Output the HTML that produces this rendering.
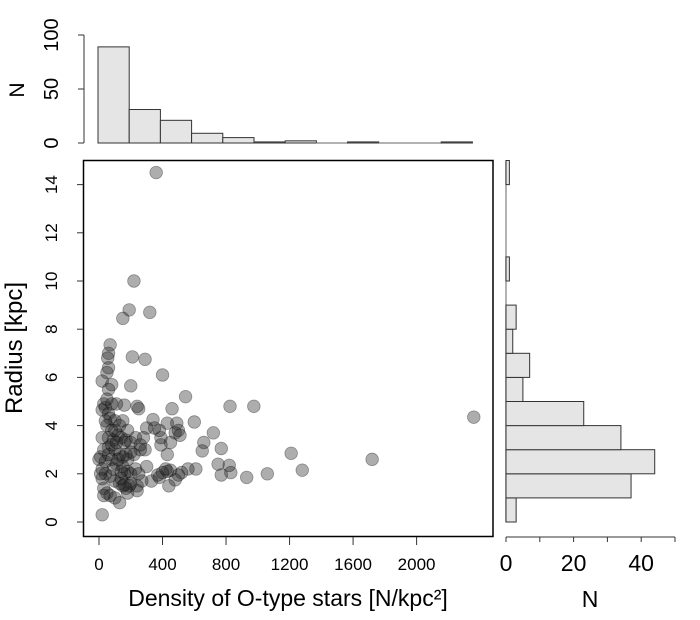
<!DOCTYPE html>
<html><head><meta charset="utf-8">
<style>
html,body{margin:0;padding:0;background:#fff;}
svg{display:block;font-family:"Liberation Sans",Arial,sans-serif;}
</style></head>
<body>
<svg id="chart" width="700" height="620" viewBox="0 0 700 620" xmlns="http://www.w3.org/2000/svg">
<g id="top"></g>
<g id="main"></g>
<g id="right"></g>
</svg>
<script>
// ---- data ----
const densityVals = [360,220,190,150,320,70,60,55,60,50,210,290,400,20,80,60,200,545,825,975,2360,1210,1280,1720,1060,930,830,820,750,770,770,720,660,650,600,610,560,520,500,480,440,450,430,380,370,400,420,330,300,430,450,480,490,430,460,500,510,390,390,380,340,350,300,290,250,240,160,110,30,40,20,60,70,100,130,50,80,120,20,60,90,140,160,170,200,230,260,280,260,220,200,180,150,130,100,60,30,10,0,40,80,110,150,180,200,230,250,270,240,200,170,150,130,100,70,40,20,10,30,50,70,100,130,180,240,30,20,160,140,90,60,120,100,40,80,50,150,180,20,80,110,140,190,160,170];
const radiusVals = [14.5,10.0,8.8,8.45,8.7,7.35,7.0,6.8,6.4,6.2,6.85,6.75,6.1,5.85,5.7,5.5,5.65,5.2,4.8,4.8,4.35,2.85,2.15,2.6,2.0,1.85,2.05,2.35,2.4,1.95,3.05,3.7,3.3,2.95,4.15,2.2,2.2,2.05,1.95,1.75,1.5,2.15,2.1,1.85,1.95,2.05,2.2,1.7,2.3,2.8,3.3,3.7,4.1,4.1,4.7,3.8,3.6,3.2,3.5,3.8,4.25,3.9,3.9,3.0,4.7,4.8,4.85,4.9,4.9,4.75,4.65,4.5,4.3,4.2,4.0,4.0,3.8,3.6,3.5,3.5,3.4,3.5,3.3,3.4,3.3,3.5,3.2,3.5,3.0,2.8,2.9,2.6,2.7,2.8,3.0,3.1,3.0,2.7,2.6,2.5,2.6,2.4,2.3,2.1,2.0,2.2,2.0,1.7,1.5,1.6,1.4,1.5,1.6,1.7,1.9,2.0,1.8,2.0,1.4,1.2,1.1,1.0,0.8,1.2,1.3,1.1,0.3,2.0,1.8,2.2,2.8,2.6,3.8,4.2,4.9,5.1,4.2,3.8,2.2,3.2,3.3,2.1,1.5,1.55,2.8];
const topBinCounts = [89,31,21,9,5,1,2,0,1,0,0,1];   // bins of 200 N/kpc^2 starting at 0
const rightBinCounts = [3,37,44,34,23,5,7,2,3,0,1,0,0,0,1]; // bins of 1 kpc starting at 0
const xTicks = [0,400,800,1200,1600,2000];
const yTicks = [0,2,4,6,8,10,12,14];
const topNTicks = [0,50,100];
const rightNTicks = [0,10,20,30,40,50];
const rightNLabels = [0,20,40];

// ---- scales ----
const NS='http://www.w3.org/2000/svg';
const sx = v => 99 + v*0.1588;
const hx = v => 98 + v*0.156;
const sy = v => 522 - v*24.1;
const ty = v => 143 - v*1.08;
const rx = v => 506 + v*3.38;

function mk(parent, tag, attrs, text){
  const e=document.createElementNS(NS,tag);
  for(const k in attrs) e.setAttribute(k,attrs[k]);
  if(text!==undefined) e.textContent=text;
  parent.appendChild(e); return e;
}
const main=document.getElementById('main'), top_=document.getElementById('top'), right=document.getElementById('right');

// ---- main scatter ----
for(let i=0;i<densityVals.length;i++){
  const c=mk(main,'circle',{cx:sx(densityVals[i]),cy:sy(radiusVals[i]),r:6.3,fill:'rgba(40,40,40,0.38)',stroke:'rgba(0,0,0,0.35)','stroke-width':0.8});
  
  
}
const box=mk(main,'rect',{x:83.5,y:160.5,width:409.5,height:376,fill:'none',stroke:'#000','stroke-width':1.5});


xTicks.forEach(t=>{
  mk(main,'line',{x1:sx(t),x2:sx(t),y1:537,y2:545,stroke:'#333'});
  const l=mk(main,'text',{x:sx(t),y:570,'font-size':17,'text-anchor':'middle'},t);
  
  
});
yTicks.forEach(t=>{
  mk(main,'line',{x1:77,x2:83,y1:sy(t),y2:sy(t),stroke:'#333'});
  const l=mk(main,'text',{x:0,y:0,'font-size':17,'text-anchor':'middle',transform:`translate(57,${sy(t)}) rotate(-90)`},t);
  
  
});
const xt=mk(main,'text',{x:288,y:606,'font-size':23,'text-anchor':'middle'},'Density of O-type stars [N/kpc²]');


const yt=mk(main,'text',{x:0,y:0,'font-size':24,'text-anchor':'middle',transform:'translate(22,348) rotate(-90)'},'Radius [kpc]');



// ---- top histogram ----
topBinCounts.forEach((n,i)=>{
  if(n===0){
    const z=mk(top_,'line',{x1:hx(i*200),x2:hx((i+1)*200),y1:ty(0),y2:ty(0),stroke:'#999','stroke-width':1.5});
    
    
    return;
  }
  const b=mk(top_,'rect',{x:hx(i*200),y:ty(n),width:hx(200)-hx(0),height:ty(0)-ty(n),fill:'#e5e5e5',stroke:'#333','stroke-width':1});
  
  
});
mk(top_,'line',{x1:84,x2:84,y1:ty(100),y2:ty(0),stroke:'#333'});
topNTicks.forEach(t=>{
  mk(top_,'line',{x1:78,x2:84,y1:ty(t),y2:ty(t),stroke:'#333'});
  const l=mk(top_,'text',{x:0,y:0,'font-size':20,'text-anchor':'middle',transform:`translate(58,${ty(t)}) rotate(-90)`},t);
  
  
});
const tn=mk(top_,'text',{x:0,y:0,'font-size':21,'text-anchor':'middle',transform:'translate(24,90) rotate(-90)'},'N');



// ---- right histogram ----
mk(right,'line',{x1:rx(0),x2:rx(0),y1:sy(15),y2:sy(0),stroke:'#999','stroke-width':1.5});
rightBinCounts.forEach((n,i)=>{
  if(n===0) return;
  const b=mk(right,'rect',{x:rx(0),y:sy(i+1),width:rx(n)-rx(0),height:sy(i)-sy(i+1),fill:'#e5e5e5',stroke:'#333','stroke-width':1});
  
  
});
mk(right,'line',{x1:rx(0),x2:rx(50),y1:537,y2:537,stroke:'#333'});
rightNTicks.forEach(t=>{
  mk(right,'line',{x1:rx(t),x2:rx(t),y1:537,y2:542,stroke:'#333'});
});
rightNLabels.forEach(t=>{
  const l=mk(right,'text',{x:rx(t),y:571,'font-size':23,'text-anchor':'middle'},t);
  
  
});
const rn=mk(right,'text',{x:590,y:607,'font-size':23,'text-anchor':'middle'},'N');


</script>
</body></html>
